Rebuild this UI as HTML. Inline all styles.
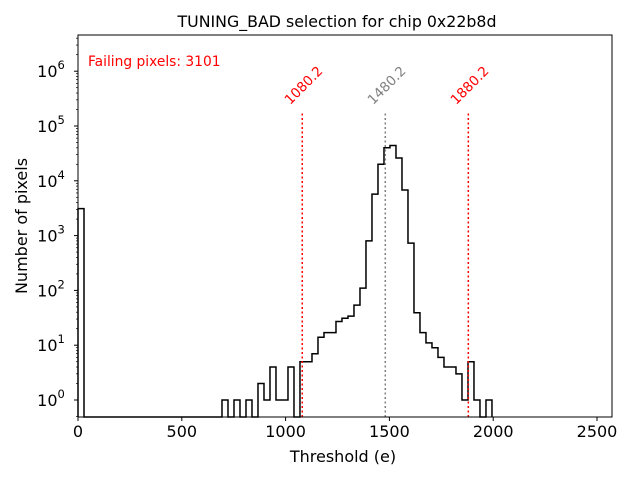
<!DOCTYPE html>
<html><head><meta charset="utf-8"><style>
body{margin:0;background:#fff}
svg{display:block;font-family:"DejaVu Sans","Liberation Sans",sans-serif}
</style></head><body>
<svg id="chart" width="640" height="480" xmlns="http://www.w3.org/2000/svg"></svg>
<script>
const binWidth = 28.9;
const counts = [3101,0,0,0,0,0,0,0,0,0,0,0,0,0,0,0,0,0,0,0,0,0,0,0,
  1,0,1,0,1,0,2,1,4,1,1,4,0,5,5,7,14,17,17,27,31,34,54,110,
  800,5700,20000,40000,44000,26000,6800,730,39,17,11,9,6,4,4,3,1,5,1,0,1];
const xTicks = [0,500,1000,1500,2000,2500];
const yTickExps = [0,1,2,3,4,5,6];
const cutLines = [1080.2,1480.2,1880.2];
const cutColors = ['red','gray','red'];
const cutLabels = ['1080.2','1480.2','1880.2'];

const L=78,R=612,T=35,B=417;
const X=v=>L+v*0.2076;
const Y=v=>400-54.8*Math.log10(Math.max(v,0.3));
const NS='http://www.w3.org/2000/svg';
const svg=document.getElementById('chart');
function mk(tag,attrs,txt){const e=document.createElementNS(NS,tag);for(const k in attrs)e.setAttribute(k,attrs[k]);if(txt!==undefined)e.textContent=txt;svg.appendChild(e);return e;}

let d='M'+X(0)+','+B;
counts.forEach((c,i)=>{const y=c>0?Y(c):B;d+=' L'+X(i*binWidth)+','+y+' L'+X((i+1)*binWidth)+','+y;});
d+=' L'+X(counts.length*binWidth)+','+B;
const h=mk('path',{d:d,fill:'none',stroke:'#000','stroke-width':1.5});



cutLines.forEach((v,i)=>{
  const ln=mk('line',{x1:X(v),x2:X(v),y1:B,y2:Y(1.7e5),stroke:cutColors[i],'stroke-width':1.5,'stroke-dasharray':'2,2.5'});
  
  
  const cx=X(v)+1, cy=90;
  const t=mk('text',{x:cx,y:cy,fill:cutColors[i],'font-size':13.5,'text-anchor':'middle',transform:'rotate(-45 '+cx+' '+(cy-5)+')'},cutLabels[i]);
  
  
});

const fr=mk('rect',{x:L,y:T,width:R-L,height:B-T,fill:'none',stroke:'#000','stroke-width':1});



xTicks.forEach(v=>{
  mk('line',{x1:X(v),x2:X(v),y1:B,y2:B+4,stroke:'#000'});
  const t=mk('text',{x:X(v),y:B+20,'font-size':16,'text-anchor':'middle'},String(v));
  
  
});
yTickExps.forEach(e=>{
  const y=Y(Math.pow(10,e));
  mk('line',{x1:L,x2:L-4,y1:y,y2:y,stroke:'#000'});
  for(let m=2;m<10;m++){const ym=Y(m*Math.pow(10,e));if(ym>T)mk('line',{x1:L,x2:L-2,y1:ym,y2:ym,stroke:'#000','stroke-width':0.7});}
  const t=mk('text',{x:L-27,y:y+6,'font-size':16,'text-anchor':'middle'});
  
  
  t.innerHTML='10<tspan dy="-8" font-size="11.5">'+e+'</tspan>';
});
mk('line',{x1:L,x2:L-2,y1:Y(0.5),y2:Y(0.5),stroke:'#000','stroke-width':0.7});

const tt=mk('text',{x:337,y:27,'font-size':15.8,'text-anchor':'middle'},'TUNING_BAD selection for chip 0x22b8d');

const xl=mk('text',{x:343,y:462,'font-size':16,'text-anchor':'middle'},'Threshold (e)');

const yl=mk('text',{x:27,y:226,'font-size':16,'text-anchor':'middle',transform:'rotate(-90 27 226)'},'Number of pixels');

const fp=mk('text',{x:88,y:66,'font-size':13.8,fill:'red'},'Failing pixels: 3101');

</script>
</body></html>
